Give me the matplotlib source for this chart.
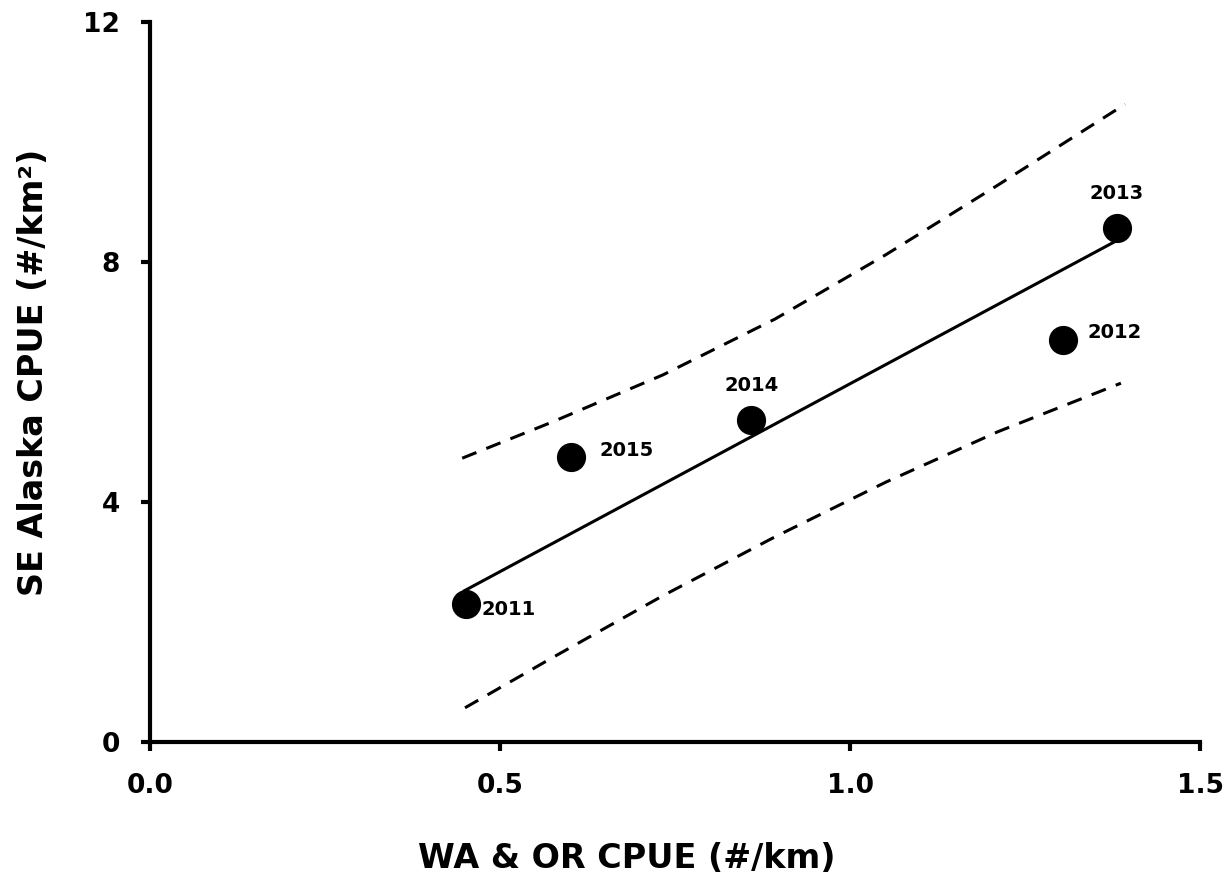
import matplotlib
matplotlib.use("Agg")
import matplotlib.pyplot as plt

# ---- data ----
years = ["2011", "2012", "2013", "2014", "2015"]
wa_or_cpue = [0.451, 1.304, 1.381, 0.859, 0.602]
se_alaska_cpue = [2.30, 6.70, 8.57, 5.37, 4.75]

fit_x = [0.449, 1.380]
fit_y = [2.52, 8.35]

upper_x = [0.446, 0.574, 0.733, 0.893, 1.051, 1.211, 1.393]
upper_y = [4.73, 5.33, 6.12, 7.05, 8.12, 9.28, 10.63]
lower_x = [0.450, 0.574, 0.733, 0.893, 1.051, 1.211, 1.387]
lower_y = [0.57, 1.40, 2.44, 3.42, 4.33, 5.17, 5.98]

x_ticks = [0.0, 0.5, 1.0, 1.5]
x_ticklabels = ["0.0", "0.5", "1.0", "1.5"]
y_ticks = [0, 4, 8, 12]
y_ticklabels = ["0", "4", "8", "12"]

# label offsets (points) for each year label
label_offsets = {"2011": (11.5, -4.3, "left"),
                 "2012": (18, 5.5, "left"),
                 "2013": (0, 24.5, "center"),
                 "2014": (0, 25, "center"),
                 "2015": (20, 5, "left")}

FONT = "DejaVu Sans"

fig = plt.figure(figsize=(12.29, 8.81), dpi=100)
ax = fig.add_axes([150/1229, (881-742)/881, 1050/1229, 720/881])

ax.plot(upper_x, upper_y, color="black", lw=2.2, ls=(0, (5, 3.5)))
ax.plot(lower_x, lower_y, color="black", lw=2.2, ls=(0, (5, 3.5)))
ax.plot(fit_x, fit_y, color="black", lw=2.2)
ax.plot(wa_or_cpue, se_alaska_cpue, "o", color="black", ms=20, ls="none", zorder=5)

for yr, xv, yv in zip(years, wa_or_cpue, se_alaska_cpue):
    dx, dy, ha = label_offsets[yr]
    ax.annotate(yr, (xv, yv), xytext=(dx, dy), textcoords="offset points",
                ha=ha, va="center", fontsize=14, fontweight="bold",
                family=FONT)

ax.set_xlim(0, 1.5)
ax.set_ylim(0, 12)
ax.set_xticks(x_ticks)
ax.set_xticklabels(x_ticklabels)
ax.set_yticks(y_ticks)
ax.set_yticklabels(y_ticklabels)

for s in ["top", "right"]:
    ax.spines[s].set_visible(False)
for s in ["left", "bottom"]:
    ax.spines[s].set_linewidth(3)
ax.tick_params(width=3, length=6.5, labelsize=19)
ax.tick_params(axis="x", pad=16)
ax.tick_params(axis="y", pad=15)
for lab in ax.get_xticklabels() + ax.get_yticklabels():
    lab.set_fontweight("bold")
    lab.set_family(FONT)

ax.set_xlabel("WA & OR CPUE (#/km)", fontsize=24, fontweight="bold",
              family=FONT)
ax.xaxis.set_label_coords((627-150)/1050, (742-858)/720)
ax.xaxis.label.set_va("center")
ax.set_ylabel("SE Alaska CPUE (#/km²)", fontsize=24, fontweight="bold",
              family=FONT)
ax.yaxis.set_label_coords((34-150)/1050, (742-372)/720)
ax.yaxis.label.set_va("center")

fig.savefig("out.png", dpi=100)
